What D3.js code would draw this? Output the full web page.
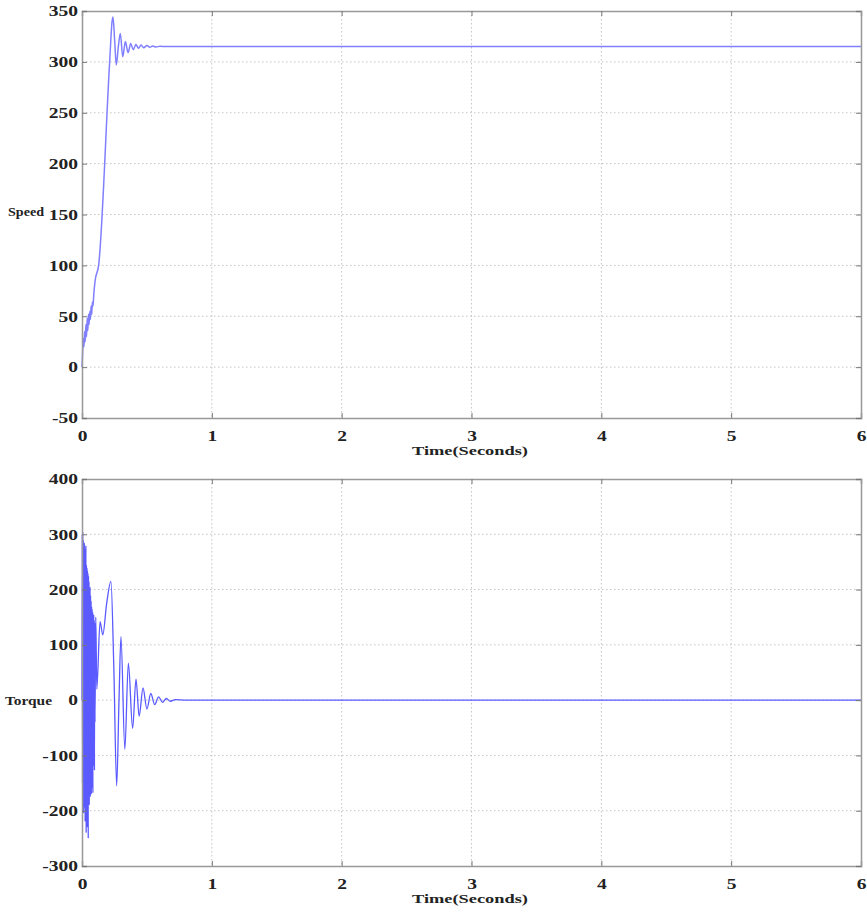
<!DOCTYPE html>
<html>
<head>
<meta charset="utf-8">
<script src="https://cdn.jsdelivr.net/npm/d3@7"></script>
<style>
  body { margin: 0; background: #fff; }
  svg text { font-family: "Liberation Serif", "Times New Roman", Times, serif; fill: #222; }
</style>
</head>
<body>
<div id="chart"></div>
<script>
'use strict';

// tick values
var timeTicks = [0, 1, 2, 3, 4, 5, 6];
var speedTicks = [-50, 0, 50, 100, 150, 200, 250, 300, 350];
var torqueTicks = [-300, -200, -100, 0, 100, 200, 300, 400];

// speed response
var speedTime = [0, 0.005, 0.01, 0.015, 0.02, 0.025, 0.03, 0.035, 0.04, 0.045, 0.05, 0.055, 0.06, 0.065,
    0.07, 0.075, 0.08, 0.085, 0.09, 0.1, 0.128, 0.213, 0.232, 0.239, 0.252, 0.264, 0.28, 0.295, 0.314,
    0.334, 0.355, 0.375, 0.395, 0.415, 0.435, 0.455, 0.475, 0.5, 0.522, 0.545, 0.57, 0.6, 0.65, 6];
var speedValue = [0, 15, 28, 20, 35, 25, 42, 30, 48, 36, 52, 42, 55, 47,
    60, 52, 64, 60, 70, 84, 100, 300, 340, 344, 320, 297, 315, 328, 305,
    320, 309, 318, 312, 317, 313.5, 316.5, 314, 316, 314.4, 315.6, 314.7, 315.3, 315, 315];

// torque response
var torqueTime = [0, 0.002, 0.004, 0.006, 0.008, 0.01, 0.012, 0.014, 0.016, 0.018, 0.02, 0.022, 0.024,
    0.026, 0.028, 0.03, 0.032, 0.034, 0.036, 0.038, 0.04, 0.042, 0.044, 0.046, 0.048, 0.05, 0.052,
    0.054, 0.056, 0.058, 0.06, 0.062, 0.064, 0.066, 0.068, 0.07, 0.072, 0.074, 0.076, 0.078, 0.08,
    0.082, 0.084, 0.086, 0.088, 0.09, 0.092, 0.094, 0.096, 0.098, 0.1, 0.106, 0.114, 0.139, 0.16,
    0.19, 0.223, 0.245, 0.267, 0.285, 0.3, 0.33, 0.357, 0.39, 0.416, 0.44, 0.47, 0.5, 0.53, 0.56,
    0.59, 0.62, 0.65, 0.68, 0.72, 0.8, 6];
var torqueValue = [0, 300, -150, 305, -200, 290, -205, 280, 20, 285, -195, 275, -220,
    250, -120, 280, -240, 245, -60, 240, -230, 235, -150, 230, -250, 225, -100,
    215, -190, 200, -60, 205, -175, 190, -90, 180, -170, 170, -40, 165, -160,
    160, -168, 150, -50, 155, -120, 145, -127, 140, -40, 150, 20, 142, 118,
    175, 215, 60, -155, 0, 115, -89, 67, -51, 38, -29, 22, -16, 12, -8,
    6, -4, 3, -2, 1, 0, 0];

var svg = d3.select('#chart').append('svg')
    .attr('width', 867)
    .attr('height', 919);

var stretch = 1.3;

function drawPanel(opt) {
    var x = d3.scaleLinear().domain([0, 6]).range([82, 861]),
        y = d3.scaleLinear().domain(opt.yDomain).range([opt.bottom, opt.top]);

    var g = svg.append('g');

    // dotted grid
    g.append('g').selectAll('line')
        .data(timeTicks.slice(1, -1))
        .enter().append('line')
        .attr('x1', function(d) { return x(d); })
        .attr('x2', function(d) { return x(d); })
        .attr('y1', opt.top).attr('y2', opt.bottom)
        .attr('stroke', '#c4c4c4').attr('stroke-dasharray', '1.5,2.5');
    g.append('g').selectAll('line')
        .data(opt.yTicks.slice(1, -1))
        .enter().append('line')
        .attr('x1', 82).attr('x2', 861)
        .attr('y1', function(d) { return y(d); })
        .attr('y2', function(d) { return y(d); })
        .attr('stroke', '#c4c4c4').attr('stroke-dasharray', '1.5,2.5');

    // the response line
    var line = d3.line()
        .x(function(d) { return x(d[0]); })
        .y(function(d) { return y(d[1]); })
        .curve(d3.curveMonotoneX);
    g.append('path')
        .datum(d3.zip(opt.time, opt.values))
        .attr('d', line)
        .attr('fill', 'none')
        .attr('stroke', opt.color)
        .attr('stroke-width', opt.width);

    // box with inward ticks on all sides
    var plain = function(d) { return String(d); };
    var axes = [
        d3.axisBottom(x).tickValues(timeTicks).tickSize(-5).tickPadding(12).tickFormat(plain),
        d3.axisTop(x).tickValues(timeTicks).tickSize(-5).tickFormat(''),
        d3.axisLeft(y).tickValues(opt.yTicks).tickSize(-5).tickPadding(9).tickFormat(plain),
        d3.axisRight(y).tickValues(opt.yTicks).tickSize(-5).tickFormat('')
    ];
    var pos = ['translate(0,' + opt.bottom + ')', 'translate(0,' + opt.top + ')',
        'translate(82,0)', 'translate(861,0)'];
    axes.forEach(function(ax, i) {
        var a = g.append('g').attr('transform', pos[i]).call(ax);
        a.attr('font-family', null);
        a.select('.domain').attr('stroke', '#999').attr('stroke-width', 1.5);
        a.selectAll('.tick line').attr('stroke', '#777');
        a.selectAll('text').attr('font-size', 15).attr('font-weight', 'bold');
        if (i === 2) {
            a.selectAll('.tick text').attr('x', null)
                .attr('transform', 'translate(-4,0) scale(' + stretch + ',1)');
        }
        if (i === 0) {
            a.selectAll('.tick text').attr('transform', 'scale(' + stretch + ',1)');
        }
    });

    g.append('text')
        .attr('x', 412).attr('y', opt.bottom + 37)
        .attr('font-size', 13).attr('font-weight', 'bold')
        .attr('textLength', 116).attr('lengthAdjust', 'spacingAndGlyphs')
        .text('Time(Seconds)');
    g.append('text')
        .attr('x', opt.labelX).attr('y', opt.labelY)
        .attr('font-size', 13).attr('font-weight', 'bold')
        .attr('textLength', opt.labelW).attr('lengthAdjust', 'spacingAndGlyphs')
        .text(opt.label);
}

drawPanel({
    yDomain: [-50, 350], yTicks: speedTicks, top: 11, bottom: 418,
    time: speedTime, values: speedValue, color: '#8080ff', width: 1.5,
    label: 'Speed', labelX: 8, labelY: 216, labelW: 36
});
drawPanel({
    yDomain: [-300, 400], yTicks: torqueTicks, top: 479, bottom: 866,
    time: torqueTime, values: torqueValue, color: '#5a5aff', width: 1.3,
    label: 'Torque', labelX: 5, labelY: 705, labelW: 47
});
</script>
</body>
</html>
